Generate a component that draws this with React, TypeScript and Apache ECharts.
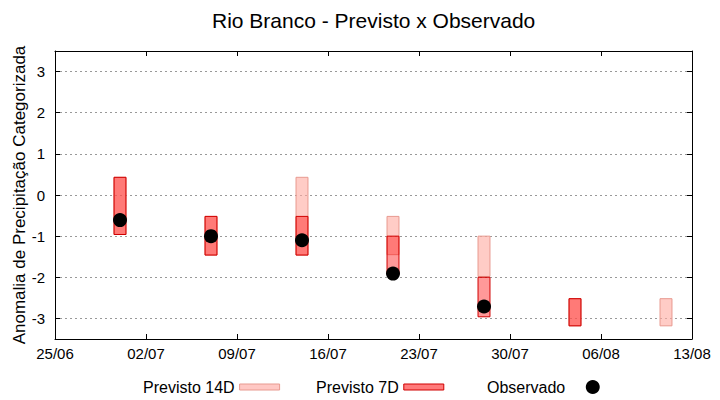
import React, { useEffect, useRef } from "react";
import * as echarts from "echarts";

const TICK_LABELS = ["25/06", "02/07", "09/07", "16/07", "23/07", "30/07", "06/08", "13/08"];
const DATES = ["30/06", "07/07", "14/07", "21/07", "28/07", "04/08", "11/08"];
const P14_HIGH = [0.43, -0.52, 0.43, -0.52, -1.0, -2.52, -2.52];
const P14_LOW = [-0.96, -1.46, -1.46, -1.45, -1.98, -3.18, -3.18];
const P7_HIGH = [0.43, -0.52, -0.52, -1.0, -2.0, -2.52, null];
const P7_LOW = [-0.96, -1.46, -1.46, -1.93, -2.96, -3.18, null];
const OBS = [-0.61, -1.0, -1.1, -1.91, -2.71, null, null];
const Y_TICKS = [-3, -2, -1, 0, 1, 2, 3];

const FONT = "Liberation Sans, Arial, sans-serif";
const HALF = 0.46; // half bar width in days

// days since 25/06
const dayOf = (s: string) => {
  const [d, m] = s.split("/").map(Number);
  return (Date.UTC(2000, m - 1, d) - Date.UTC(2000, 5, 25)) / 86400000;
};

const rangeData = (hi: (number | null)[], lo: (number | null)[]) =>
  DATES.map((d, i) => (hi[i] == null ? null : [dayOf(d), lo[i], hi[i]])).filter(Boolean);

const rectRenderer = (fill: string, stroke: string) => (_params: any, api: any) => {
  const x = api.value(0);
  const p1 = api.coord([x - HALF, api.value(2)]);
  const p2 = api.coord([x + HALF, api.value(1)]);
  return {
    type: "rect",
    shape: { x: p1[0], y: p1[1], width: p2[0] - p1[0], height: p2[1] - p1[1] },
    style: { fill, stroke, lineWidth: 1 },
  };
};

export default function App() {
  const chartRef = useRef<HTMLDivElement>(null);

  useEffect(() => {
    if (!chartRef.current) return;
    const chart = echarts.init(chartRef.current, null, { renderer: "svg" });

    const xCommon = {
      type: "value",
      min: 0,
      max: 49,
      interval: 7,
      axisLine: { show: true, onZero: false, lineStyle: { color: "#000", width: 1 } },
      axisTick: { inside: true, length: 5, lineStyle: { color: "#000" } },
      splitLine: { show: false },
    };
    const yCommon = {
      type: "value",
      min: -3.5,
      max: 3.5,
      axisLine: { show: true, onZero: false, lineStyle: { color: "#000", width: 1 } },
      axisTick: { show: true, inside: true, length: 5, customValues: Y_TICKS, lineStyle: { color: "#000" } },
    };

    chart.setOption({
      animation: false,
      backgroundColor: "#fff",
      title: {
        text: "Rio Branco - Previsto x Observado",
        left: 207,
        top: 5,
        textStyle: { fontFamily: FONT, fontSize: 21, fontWeight: "normal", color: "#000" },
      },
      grid: { left: 55, right: 28, top: 51, bottom: 61 },
      legend: [
        {
          left: 138,
          top: 374,
          align: "right",
          itemWidth: 40,
          itemHeight: 6,
          itemGap: 36,
          textStyle: { fontFamily: FONT, fontSize: 16, color: "#000" },
          data: [
            { name: "Previsto 14D", icon: "rect", itemStyle: { color: "#ffc8c4", borderColor: "#e89a90", borderWidth: 1 } },
            { name: "Previsto 7D", icon: "rect", itemStyle: { color: "#ff7a7a", borderColor: "#d00000", borderWidth: 1 } },
          ],
        },
        {
          left: 482,
          top: 374,
          align: "right",
          itemWidth: 45,
          itemHeight: 14,
          textStyle: { fontFamily: FONT, fontSize: 16, color: "#000" },
          data: [{ name: "Observado", icon: "circle", itemStyle: { color: "#000", opacity: 1 } }],
        },
      ],
      xAxis: [
        {
          ...xCommon,
          position: "bottom",
          axisLabel: {
            fontFamily: FONT,
            fontSize: 15,
            color: "#000",
            margin: 7,
            formatter: (v: number) => TICK_LABELS[Math.round(v / 7)] ?? "",
          },
        },
        { ...xCommon, position: "top", axisLabel: { show: false } },
      ],
      yAxis: [
        {
          ...yCommon,
          position: "left",
          name: "Anomalia de Precipitação Categorizada",
          nameLocation: "middle",
          nameGap: 27,
          nameMoveOverlap: false,
          nameTextStyle: { fontFamily: FONT, fontSize: 17, color: "#000" },
          axisLabel: { fontFamily: FONT, fontSize: 15, color: "#000", margin: 10, customValues: Y_TICKS },
          splitLine: { show: true, lineStyle: { color: "#999", type: [2, 3], width: 1 } },
        },
        {
          ...yCommon,
          position: "right",
          axisLabel: { show: false },
          splitLine: { show: false },
        },
      ],
      series: [
        {
          name: "Previsto 14D",
          type: "custom",
          renderItem: rectRenderer("rgba(255,170,160,0.6)", "#e89a90"),
          encode: { x: 0, y: [1, 2] },
          data: rangeData(P14_HIGH, P14_LOW),
          z: 2,
        },
        {
          name: "Previsto 7D",
          type: "custom",
          renderItem: rectRenderer("rgba(255,0,0,0.4)", "#d00000"),
          encode: { x: 0, y: [1, 2] },
          data: rangeData(P7_HIGH, P7_LOW),
          z: 3,
        },
        {
          name: "Observado",
          type: "scatter",
          symbol: "circle",
          symbolSize: 14,
          itemStyle: { color: "#000", opacity: 1 },
          data: DATES.map((d, i) => (OBS[i] == null ? null : [dayOf(d), OBS[i]])).filter(Boolean),
          z: 4,
        },
      ],
    });

    return () => chart.dispose();
  }, []);

  return <div ref={chartRef} style={{ position: "absolute", left: 0, top: 0, width: 720, height: 400 }} />;
}
